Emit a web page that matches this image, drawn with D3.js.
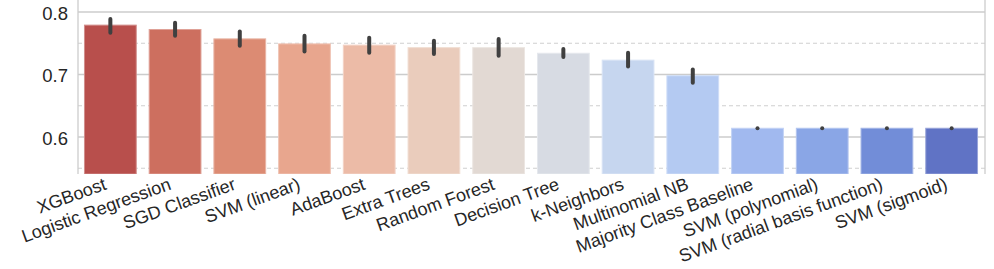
<!DOCTYPE html>
<html>
<head>
<meta charset="utf-8">
<script src="https://cdn.jsdelivr.net/npm/d3@7"></script>
<style>
  body { margin: 0; background: #fff; }
  svg { display: block; }
</style>
</head>
<body>
<svg id="chart"></svg>
<script>
// model accuracy
let models = ["XGBoost", "Logistic Regression", "SGD Classifier", "SVM (linear)", "AdaBoost",
    "Extra Trees", "Random Forest", "Decision Tree", "k-Neighbors", "Multinomial NB",
    "Majority Class Baseline", "SVM (polynomial)", "SVM (radial basis function)", "SVM (sigmoid)"];
let accuracy = [0.779, 0.772, 0.757, 0.749, 0.747, 0.743, 0.743, 0.734, 0.723, 0.698, 0.614, 0.614, 0.614, 0.614];
let ciLow = [0.767, 0.762, 0.746, 0.737, 0.735, 0.733, 0.730, 0.728, 0.713, 0.687, 0.614, 0.614, 0.614, 0.614];
let ciHigh = [0.789, 0.783, 0.769, 0.762, 0.759, 0.754, 0.757, 0.741, 0.735, 0.708, 0.614, 0.614, 0.614, 0.614];
let majorTicks = [0.6, 0.7, 0.8];
let minorTicks = [0.55, 0.65, 0.75];

let palette = ["#b84f4c", "#cd6f5f", "#dc8b73", "#e8a68e", "#ecbba7", "#eaccbc", "#e2d9d3",
    "#d7dbe3", "#c6d6ef", "#b4caf2", "#a1b9ef", "#8aa6e6", "#728dd8", "#6073c5"];

let W = 994, H = 269;
let plotLeft = 78, plotRight = 985, plotBottom = 174, plotTop = -20;

let svg = d3.select("#chart").attr("width", W).attr("height", H);

let x = d3.scaleBand().domain(models).range([plotLeft, plotRight - 1]).paddingInner(0.2).paddingOuter(0.1);
let y = d3.scaleLinear().domain([0.6, 0.8]).range([137, 12]);

let grid = svg.append("g");
grid.selectAll("line.major")
    .data(majorTicks)
    .enter()
    .append("line")
    .attr("x1", plotLeft).attr("x2", plotRight)
    .attr("y1", (d) => y(d)).attr("y2", (d) => y(d))
    .style("stroke", "#cccccc")
    .style("stroke-width", 1.3);
grid.selectAll("line.minor")
    .data(minorTicks)
    .enter()
    .append("line")
    .attr("x1", plotLeft).attr("x2", plotRight)
    .attr("y1", (d) => y(d)).attr("y2", (d) => y(d))
    .style("stroke", "#cfcfcf")
    .style("stroke-width", 1)
    .style("stroke-dasharray", "4,3");

// spines
svg.append("line")
    .attr("x1", plotLeft).attr("x2", plotLeft).attr("y1", plotTop).attr("y2", plotBottom)
    .style("stroke", "#cccccc").style("stroke-width", 1.3);
svg.append("line")
    .attr("x1", plotRight).attr("x2", plotRight).attr("y1", plotTop).attr("y2", plotBottom)
    .style("stroke", "#cccccc").style("stroke-width", 1.3);

let bars = svg.append("g");
bars.selectAll("rect")
    .data(models)
    .enter()
    .append("rect")
    .attr("x", (d) => x(d))
    .attr("width", x.bandwidth())
    .attr("y", (d, i) => y(accuracy[i]))
    .attr("height", (d, i) => plotBottom - y(accuracy[i]))
    .style("fill", (d, i) => palette[i])
    .style("stroke", (d, i) => d3.interpolateRgb(palette[i], "#ffffff")(0.35))
    .style("stroke-width", 1);

let err = svg.append("g");
err.selectAll("line")
    .data(models)
    .enter()
    .append("line")
    .attr("x1", (d) => x(d) + x.bandwidth() / 2)
    .attr("x2", (d) => x(d) + x.bandwidth() / 2)
    .attr("y1", (d, i) => y(ciHigh[i]))
    .attr("y2", (d, i) => y(ciLow[i]) + 0.01)
    .style("stroke", "#404040")
    .style("stroke-width", 4)
    .style("stroke-linecap", "round");

// white band under the plot, the labels sit on it
svg.append("rect")
    .attr("x", 0).attr("y", plotBottom).attr("width", W).attr("height", H - plotBottom)
    .style("fill", "#ffffff");

svg.append("g")
    .selectAll("text")
    .data(majorTicks)
    .enter()
    .append("text")
    .attr("x", 68)
    .attr("y", (d) => y(d) + 1.5)
    .attr("dy", "0.35em")
    .attr("text-anchor", "end")
    .style("font-family", "'Liberation Sans', Arial, sans-serif")
    .style("font-size", "18.5px")
    .style("fill", "#262626")
    .text((d) => d3.format(".1f")(d));

svg.append("g")
    .selectAll("text")
    .data(models)
    .enter()
    .append("text")
    .attr("transform", (d) => `translate(${x(d) + x.bandwidth() / 2 - 3},189) rotate(-20)`)
    .attr("text-anchor", "end")
    .style("font-family", "'Liberation Sans', Arial, sans-serif")
    .style("font-size", "18px")
    .style("fill", "#262626")
    .text((d) => d);
</script>
</body>
</html>
